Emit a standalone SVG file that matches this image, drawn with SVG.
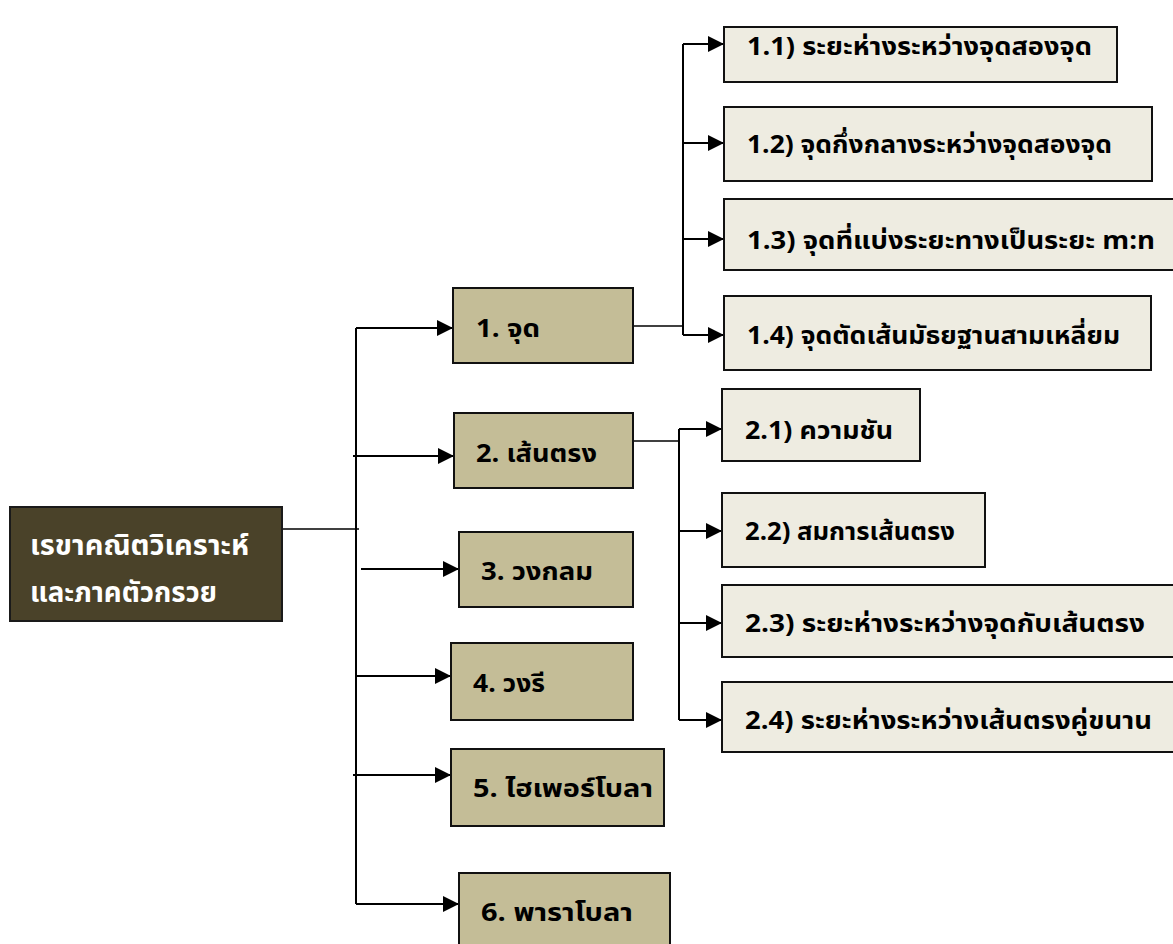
<svg xmlns="http://www.w3.org/2000/svg" width="1173" height="944" viewBox="0 0 1173 944">
<style>
text{font-family:Tahoma,"Noto Sans Thai","Noto Sans","DejaVu Sans",sans-serif;font-weight:bold;fill:#000}
.root rect{fill:#4a4229;stroke:#1a1a1a;stroke-width:2}
.root text{fill:#fff;font-size:28px}
.l1 rect{fill:#c4bd97;stroke:#111;stroke-width:2}
.l1 text{font-size:25px}
.l2 rect{fill:#eeece1;stroke:#111;stroke-width:2}
.l2 text{font-size:25px}
#connectors path{fill:none;stroke:#000;stroke-width:2}
#connectors .thin{stroke-width:1.4}
</style>
<defs>
<marker id="ah" viewBox="0 0 16 16" refX="16" refY="8" markerWidth="16" markerHeight="16" markerUnits="userSpaceOnUse" orient="auto">
<path d="M0,0 L16,8 L0,16 Z" fill="#000"/>
</marker>
</defs>
<rect width="1173" height="944" fill="#fff"/>
<g id="connectors">
<path class="thin" d="M282,529 H359"/>
<path d="M356,328 V904"/>
<path d="M356,328 H453" marker-end="url(#ah)"/>
<path d="M353,456 H454" marker-end="url(#ah)"/>
<path d="M361,569 H459" marker-end="url(#ah)"/>
<path d="M356,676 H451" marker-end="url(#ah)"/>
<path d="M353,775 H451" marker-end="url(#ah)"/>
<path d="M356,904 H459" marker-end="url(#ah)"/>
<path class="thin" d="M633,326 H683"/>
<path d="M683,44 V335"/>
<path d="M683,44 H724" marker-end="url(#ah)"/>
<path d="M683,143 H724" marker-end="url(#ah)"/>
<path d="M683,239 H724" marker-end="url(#ah)"/>
<path d="M683,335 H724" marker-end="url(#ah)"/>
<path class="thin" d="M633,441 H679"/>
<path d="M679,429 V720"/>
<path d="M679,429 H722" marker-end="url(#ah)"/>
<path d="M679,531 H722" marker-end="url(#ah)"/>
<path d="M679,623 H722" marker-end="url(#ah)"/>
<path d="M679,720 H722" marker-end="url(#ah)"/>
</g>
<g id="root" class="root">
<rect x="10" y="507" width="272" height="114"/>
<text x="30" y="555" textLength="219" lengthAdjust="spacingAndGlyphs">เรขาคณิตวิเคราะห์</text>
<text x="30" y="602" textLength="187" lengthAdjust="spacingAndGlyphs">และภาคตัวกรวย</text>
</g>
<g id="n1" class="l1"><rect x="453" y="288" width="180" height="75"/><text x="476" y="337" textLength="64" lengthAdjust="spacingAndGlyphs">1. จุด</text></g>
<g id="n2" class="l1"><rect x="454" y="413" width="179" height="75"/><text x="476" y="462" textLength="121" lengthAdjust="spacingAndGlyphs">2. เส้นตรง</text></g>
<g id="n3" class="l1"><rect x="459" y="532" width="174" height="75"/><text x="481" y="580" textLength="112" lengthAdjust="spacingAndGlyphs">3. วงกลม</text></g>
<g id="n4" class="l1"><rect x="451" y="643" width="182" height="77"/><text x="473" y="692" textLength="72" lengthAdjust="spacingAndGlyphs">4. วงรี</text></g>
<g id="n5" class="l1"><rect x="451" y="749" width="213" height="77"/><text x="473" y="797" textLength="180" lengthAdjust="spacingAndGlyphs">5. ไฮเพอร์โบลา</text></g>
<g id="n6" class="l1"><rect x="459" y="873" width="211" height="80"/><text x="481" y="921" textLength="152" lengthAdjust="spacingAndGlyphs">6. พาราโบลา</text></g>
<g id="n11" class="l2"><rect x="724" y="27" width="393" height="55"/><text x="747" y="55" textLength="345" lengthAdjust="spacingAndGlyphs">1.1) ระยะห่างระหว่างจุดสองจุด</text></g>
<g id="n12" class="l2"><rect x="724" y="107" width="428" height="74"/><text x="747" y="153" textLength="365" lengthAdjust="spacingAndGlyphs">1.2) จุดกึ่งกลางระหว่างจุดสองจุด</text></g>
<g id="n13" class="l2"><rect x="724" y="199" width="455" height="71"/><text x="747" y="249" textLength="408" lengthAdjust="spacingAndGlyphs">1.3) จุดที่แบ่งระยะทางเป็นระยะ m:n</text></g>
<g id="n14" class="l2"><rect x="724" y="296" width="427" height="74"/><text x="747" y="344" textLength="373" lengthAdjust="spacingAndGlyphs">1.4) จุดตัดเส้นมัธยฐานสามเหลี่ยม</text></g>
<g id="n21" class="l2"><rect x="722" y="389" width="198" height="72"/><text x="745" y="439" textLength="148" lengthAdjust="spacingAndGlyphs">2.1) ความชัน</text></g>
<g id="n22" class="l2"><rect x="722" y="493" width="263" height="74"/><text x="745" y="540" textLength="210" lengthAdjust="spacingAndGlyphs">2.2) สมการเส้นตรง</text></g>
<g id="n23" class="l2"><rect x="722" y="585" width="457" height="72"/><text x="745" y="632" textLength="400" lengthAdjust="spacingAndGlyphs">2.3) ระยะห่างระหว่างจุดกับเส้นตรง</text></g>
<g id="n24" class="l2"><rect x="722" y="682" width="457" height="70"/><text x="745" y="729" textLength="407" lengthAdjust="spacingAndGlyphs">2.4) ระยะห่างระหว่างเส้นตรงคู่ขนาน</text></g>
</svg>
